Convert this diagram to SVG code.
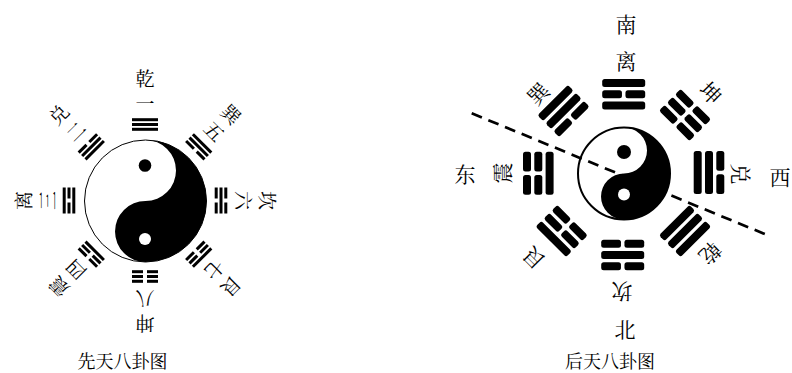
<svg xmlns="http://www.w3.org/2000/svg" width="792" height="373" viewBox="0 0 792 373">
<style>
.t{font-family:"Noto Serif CJK SC","Noto Sans CJK SC","Liberation Serif",serif;fill:#000;text-anchor:middle;dominant-baseline:central}
.sl{font-size:19px}
.sr{font-size:21px}
.cap{font-size:18px}
.dash{fill:none;stroke:#000;stroke-width:2.7;stroke-dasharray:11 7}
</style>
<defs>
<g id="s1"><rect x="-13" y="-1.5" width="26" height="3"/></g>
<g id="b1"><rect x="-13" y="-1.5" width="11" height="3"/><rect x="2" y="-1.5" width="11" height="3"/></g>
<g id="s2"><rect x="-21.5" y="-4" width="43" height="8" rx="2.5"/></g>
<g id="b2"><rect x="-21.5" y="-4" width="19.75" height="8" rx="2.5"/><rect x="1.75" y="-4" width="19.75" height="8" rx="2.5"/></g>
</defs>
<rect width="792" height="373" fill="#fff"/>

<!-- 先天八卦图 -->
<g id="xt-taiji">
<circle cx="145.5" cy="201" r="61" fill="#fff" stroke="#000" stroke-width="1"/>
<path d="M145.5,140 A61,61 0 0 1 145.5,262 A30.5,30.5 0 0 1 145.5,201 A30.5,30.5 0 0 0 145.5,140 Z" fill="#000"/>
<circle cx="145" cy="165.5" r="6.3" fill="#000"/>
<circle cx="145" cy="239" r="6" fill="#fff"/>
</g>
<g id="xt-qian">
<g transform="translate(145,124.5)"><use href="#s1" y="-4.8"/><use href="#s1"/><use href="#s1" y="4.8"/></g>
<text class="t sl" transform="translate(145,77)">乾</text>
<text class="t sl" transform="translate(145,102)">一</text>
</g>
<g id="xt-xun">
<g transform="translate(198.7,146.8) rotate(45)"><use href="#s1" y="-4.8"/><use href="#s1"/><use href="#b1" y="4.8"/></g>
<text class="t sl" transform="translate(232,113.5) rotate(45)">巽</text>
<text class="t sl" transform="translate(215,130.5) rotate(45)">五</text>
</g>
<g id="xt-kan">
<g transform="translate(221,200.5) rotate(90)"><use href="#b1" y="-4.8"/><use href="#s1"/><use href="#b1" y="4.8"/></g>
<text class="t sl" transform="translate(268,200.5) rotate(90)">坎</text>
<text class="t sl" transform="translate(244,200.5) rotate(90)">六</text>
</g>
<g id="xt-gen">
<g transform="translate(198.7,254.2) rotate(135)"><use href="#s1" y="-4.8"/><use href="#b1"/><use href="#b1" y="4.8"/></g>
<text class="t sl" transform="translate(232,287.5) rotate(135)">艮</text>
<text class="t sl" transform="translate(215,270.5) rotate(135)">七</text>
</g>
<g id="xt-kun">
<g transform="translate(145,276.5) rotate(180)"><use href="#b1" y="-4.8"/><use href="#b1"/><use href="#b1" y="4.8"/></g>
<text class="t sl" transform="translate(145,324) rotate(180)">坤</text>
<text class="t sl" transform="translate(145,299) rotate(180)">八</text>
</g>
<g id="xt-zhen">
<g transform="translate(91.3,254.2) rotate(225)"><use href="#b1" y="-4.8"/><use href="#b1"/><use href="#s1" y="4.8"/></g>
<text class="t sl" transform="translate(58,287.5) rotate(225)">震</text>
<text class="t sl" transform="translate(75,270.5) rotate(225)">四</text>
</g>
<g id="xt-li">
<g transform="translate(69,200.5) rotate(270)"><use href="#s1" y="-4.8"/><use href="#b1"/><use href="#s1" y="4.8"/></g>
<text class="t sl" transform="translate(22,200.5) rotate(270)">离</text>
<text class="t sl" transform="translate(46,200.5) rotate(270)">三</text>
</g>
<g id="xt-dui">
<g transform="translate(91.3,146.8) rotate(315)"><use href="#b1" y="-4.8"/><use href="#s1"/><use href="#s1" y="4.8"/></g>
<text class="t sl" transform="translate(58,113.5) rotate(315)">兑</text>
<text class="t sl" transform="translate(75,130.5) rotate(315)">二</text>
</g>
<g id="xt-caption"><text class="t cap" x="122.5" y="360">先天八卦图</text></g>

<!-- 后天八卦图 -->
<g id="ht-taiji">
<circle cx="624" cy="173.5" r="46" fill="#fff" stroke="#000" stroke-width="2"/>
<path d="M624,127.5 A46,46 0 0 1 624,219.5 A23,23 0 0 1 624,173.5 A23,23 0 0 0 624,127.5 Z" fill="#000"/>
<circle cx="624" cy="152" r="7" fill="#000"/>
<circle cx="624" cy="194.5" r="6" fill="#fff"/>
</g>
<g id="ht-li">
<g transform="translate(623.7,94.3)"><use href="#s2" y="-11.3"/><use href="#b2"/><use href="#s2" y="11.3"/></g>
<text class="t sr" x="626" y="22.5">南</text>
<text class="t sr" x="626" y="60">离</text>
</g>
<g id="ht-kun">
<g transform="translate(685,115) rotate(45)"><use href="#b2" y="-11.3"/><use href="#b2"/><use href="#b2" y="11.3"/></g>
<text class="t sr" transform="translate(711.5,92) rotate(45)">坤</text>
</g>
<g id="ht-dui">
<g transform="translate(709,172.5) rotate(90)"><use href="#b2" y="-11.3"/><use href="#s2"/><use href="#s2" y="11.3"/></g>
<text class="t sr" transform="translate(741.7,174) rotate(90)">兑</text>
<text class="t sr" x="780" y="176">西</text>
</g>
<g id="ht-qian">
<g transform="translate(685,231) rotate(135)"><use href="#s2" y="-11.3"/><use href="#s2"/><use href="#s2" y="11.3"/></g>
<text class="t sr" transform="translate(711,254) rotate(135)">乾</text>
</g>
<g id="ht-kan">
<g transform="translate(622.7,255) rotate(180)"><use href="#b2" y="-11.3"/><use href="#s2"/><use href="#b2" y="11.3"/></g>
<text class="t sr" transform="translate(622,292.5) rotate(180)">坎</text>
<text class="t sr" x="625" y="327.5">北</text>
</g>
<g id="ht-gen">
<g transform="translate(561.7,231) rotate(225)"><use href="#s2" y="-11.3"/><use href="#b2"/><use href="#b2" y="11.3"/></g>
<text class="t sr" transform="translate(533,259) rotate(225)">艮</text>
</g>
<g id="ht-zhen">
<g transform="translate(538.3,173.3) rotate(270)"><use href="#b2" y="-11.3"/><use href="#b2"/><use href="#s2" y="11.3"/></g>
<text class="t sr" transform="translate(501,173) rotate(270)">震</text>
<text class="t sr" x="465" y="172.5">东</text>
</g>
<g id="ht-xun">
<g transform="translate(563.5,111) rotate(315)"><use href="#s2" y="-11.3"/><use href="#s2"/><use href="#b2" y="11.3"/></g>
<text class="t sr" transform="translate(537.5,93) rotate(315)">巽</text>
</g>
<g id="connectors">
<line class="dash" x1="471.7" y1="113.3" x2="768.3" y2="235.5"/>
</g>
<g id="ht-caption"><text class="t cap" x="610" y="360">后天八卦图</text></g>
</svg>
